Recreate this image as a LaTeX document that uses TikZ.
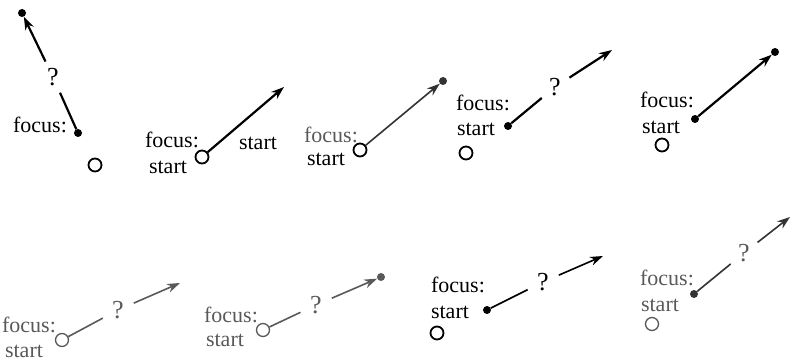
\documentclass[tikz,border=0pt]{standalone}
\usepackage{fontspec}
\setmainfont{Liberation Serif}
\usepackage{xcolor}
\usepackage{tikz}
\usetikzlibrary{arrows.meta}
\tikzset{
  lbl/.style    ={font=\fontsize{22}{24}\selectfont, inner sep=0pt},
  qmark/.style  ={circle, minimum size=34pt, inner sep=0pt,
                  font=\fontsize{26}{28}\selectfont},
  opendot/.style={circle, draw, line width=1.8pt, minimum size=13pt,
                  inner sep=0pt},
  fulldot/.style={circle, fill, minimum size=8pt, inner sep=0pt},
  seg/.style    ={line width=2.2pt},
  arr/.style    ={-{Stealth[length=13pt,width=9pt]}, line width=2.2pt},
  faint/.style  ={black!65},
}
\begin{document}
\begin{tikzpicture}[x=1pt,y=-1pt]
  \useasboundingbox (0,0) rectangle (792,363);
  % top row
  % panel 1
  \node[fulldot] (d1a) at (22,13) {};
  \node[qmark] (q1) at (53,77) {?};
  \node[fulldot] (d1b) at (78,133) {};
  \node[opendot] (c1) at (95,165) {};
  \node[lbl] (f1) at (40,125) {focus:};
  \draw[arr](q1)--(d1a);
  \draw[seg](q1)--(d1b);
  % panel 2
  \node[opendot] (c2) at (202,157) {};
  \coordinate (e2) at (284,87);
  \node[lbl] (f2) at (172,140) {focus:};
  \node[lbl] (s2) at (168,167) {start};
  \node[lbl] (t2) at (258,143) {start};
  \draw[arr](c2)--(e2);
  % panel 3
  \node[opendot] (c3) at (360,150) {};
  \node[fulldot, black!80] (d3) at (443,81) {};
  \node[lbl, faint] (f3) at (331,135) {focus:};
  \node[lbl] (s3) at (326,159) {start};
  \draw[arr, black!80, line width=1.6pt](c3)--(d3);
  % panel 4
  \node[opendot] (c4) at (466,153) {};
  \node[fulldot] (d4) at (508,126) {};
  \node[qmark] (q4) at (555,87) {?};
  \coordinate (e4) at (612,50);
  \node[lbl] (f4) at (483,103) {focus:};
  \node[lbl] (s4) at (476,129) {start};
  \draw[seg](d4)--(q4);
  \draw[arr](q4)--(e4);
  % panel 5
  \node[opendot] (c5) at (662,145) {};
  \node[fulldot] (d5a) at (695,119) {};
  \node[fulldot] (d5b) at (775,52) {};
  \node[lbl] (f5) at (667,100) {focus:};
  \node[lbl] (s5) at (661,127) {start};
  \draw[arr](d5a)--(d5b);
  % bottom row
  \begin{scope}[seg/.append style={line width=1.6pt},
                arr/.append style={line width=1.6pt}]
  % panel 6
  \node[opendot, faint, line width=1.3pt] (c6) at (62,340) {};
  \node[qmark, faint] (q6) at (118,310) {?};
  \coordinate (e6) at (180,283);
  \node[lbl, faint] (f6) at (29,325) {focus:};
  \node[lbl, faint] (s6) at (24,351) {start};
  \draw[seg, faint](c6)--(q6);
  \draw[arr, faint](q6)--(e6);
  % panel 7
  \node[opendot, faint, line width=1.3pt] (c7) at (263,330) {};
  \node[qmark, faint] (q7) at (316,305) {?};
  \node[fulldot, faint] (d7) at (381,277) {};
  \node[lbl, faint] (f7) at (231,315) {focus:};
  \node[lbl, faint] (s7) at (225,340) {start};
  \draw[seg, faint](c7)--(q7);
  \draw[arr, faint](q7)--(d7);
  % panel 8
  \node[opendot] (c8) at (437,333) {};
  \node[fulldot] (d8) at (487,310) {};
  \node[qmark] (q8) at (543,282) {?};
  \coordinate (e8) at (603,256);
  \node[lbl] (f8) at (458,285) {focus:};
  \node[lbl] (s8) at (450,312) {start};
  \draw[seg](d8)--(q8);
  \draw[arr](q8)--(e8);
  % panel 9
  \node[opendot, faint, line width=1.3pt] (c9) at (652,324) {};
  \node[fulldot, black!80] (d9) at (694,294) {};
  \node[qmark, faint] (q9) at (744,253) {?};
  \coordinate (e9) at (790,217);
  \node[lbl, faint] (f9) at (667,278) {focus:};
  \node[lbl, faint] (s9) at (660,305) {start};
  \draw[seg, black!80](d9)--(q9);
  \draw[arr, black!80](q9)--(e9);
  \end{scope}
\end{tikzpicture}
\end{document}
